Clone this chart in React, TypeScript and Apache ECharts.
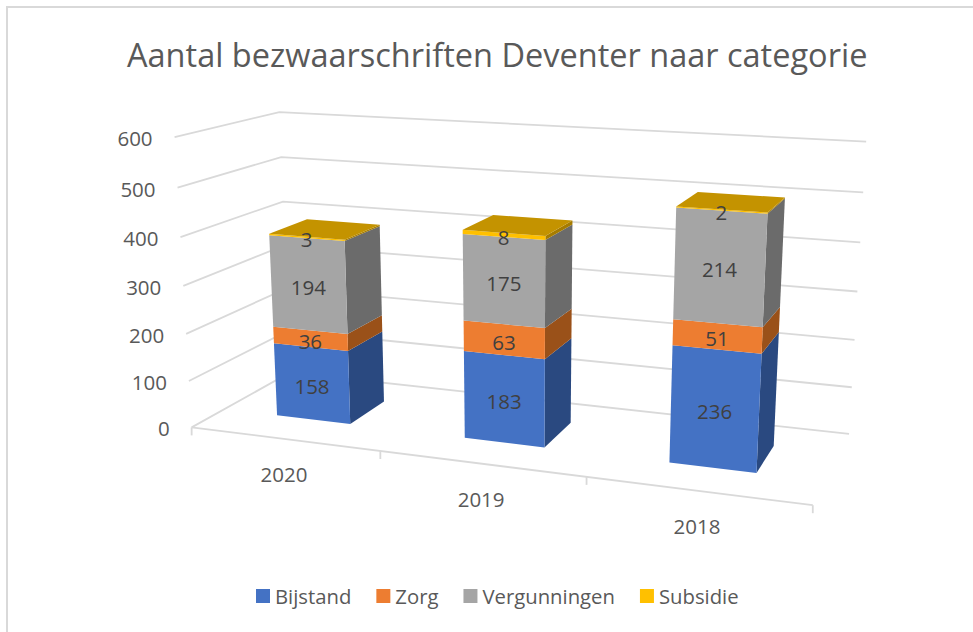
import React, { useEffect, useRef } from "react";
import * as echarts from "echarts";

const TITLE = "Aantal bezwaarschriften Deventer naar categorie";
const CATEGORIES = ["2020", "2019", "2018"];
const BIJSTAND = [158, 183, 236];
const ZORG = [36, 63, 51];
const VERGUNNINGEN = [194, 175, 214];
const SUBSIDIE = [3, 8, 2];
const VALUE_TICKS = [0, 100, 200, 300, 400, 500, 600];

const SERIES_NAMES = ["Bijstand", "Zorg", "Vergunningen", "Subsidie"];
const SERIES_VALUES = [BIJSTAND, ZORG, VERGUNNINGEN, SUBSIDIE];
const FRONT = ["#4472C4", "#ED7D31", "#A5A5A5", "#FFC000"];
const SIDE = ["#2A4980", "#9A5119", "#6B6B6B", "#A67C00"];
const TOP = "#C49300";
const TEXT = "#595959";
const LABEL = "#404040";
const GRIDLINE = "#D9D9D9";
const FONT = '"Open Sans", sans-serif';

// Picture of the 3D box: [u, v, depth] -> [x, y] for the visible corners of the axes.
const CALIBRATION: number[][] = [
  [0, 0, 0, 192, 425],
  [1, 0, 0, 813, 507],
  [0, 0, 1, 289.5, 375],
  [1, 0, 1, 849, 432],
  [0, 1, 1, 280, 111],
  [1, 1, 1, 866, 142],
  [0, 1, 0, 174, 138],
];

function fitProjection(): number[] {
  const n = 11;
  const a: number[][] = Array.from({ length: n }, () => new Array(n + 1).fill(0));
  const add = (row: number[], rhs: number) => {
    for (let i = 0; i < n; i++) {
      for (let j = 0; j < n; j++) a[i][j] += row[i] * row[j];
      a[i][n] += row[i] * rhs;
    }
  };
  for (const [u, v, d, x, y] of CALIBRATION) {
    add([u, v, d, 1, 0, 0, 0, 0, -x * u, -x * v, -x * d], x);
    add([0, 0, 0, 0, u, v, d, 1, -y * u, -y * v, -y * d], y);
  }
  for (let c = 0; c < n; c++) {
    let p = c;
    for (let r = c + 1; r < n; r++) if (Math.abs(a[r][c]) > Math.abs(a[p][c])) p = r;
    [a[c], a[p]] = [a[p], a[c]];
    for (let r = 0; r < n; r++) {
      if (r === c) continue;
      const f = a[r][c] / a[c][c];
      for (let k = c; k <= n; k++) a[r][k] -= f * a[c][k];
    }
  }
  return a.map((row, i) => row[n] / row[i]);
}

const P = fitProjection();
const project = (u: number, v: number, d: number): number[] => {
  const w = P[8] * u + P[9] * v + P[10] * d + 1;
  return [
    (P[0] * u + P[1] * v + P[2] * d + P[3]) / w,
    (P[4] * u + P[5] * v + P[6] * d + P[7]) / w,
  ];
};

const GRID = { left: 100, top: 100, width: 600, height: 300 };
const BAR_FRACTION = 0.4;
const BAR_SHIFT = -0.0015;
const D_FRONT = 0.31;
const D_BACK = 0.7;

const toUV = (pt: number[]) => [
  (pt[0] - GRID.left) / GRID.width,
  (GRID.top + GRID.height - pt[1]) / GRID.height,
];

const barRender = (seriesIndex: number, isTop: boolean) => (_p: any, api: any) => {
  const cat = api.value(0);
  const base = api.value(1);
  const end = api.value(2);
  const value = api.value(3);
  const [ucRaw, v0] = toUV(api.coord([cat, base]));
  const [, v1] = toUV(api.coord([cat, end]));
  const uc = ucRaw + BAR_SHIFT;
  const half = ((api.size([1, 0])[0] as number) * BAR_FRACTION) / 2 / GRID.width;
  const ul = uc - half;
  const ur = uc + half;
  const fl0 = project(ul, v0, D_FRONT);
  const fr0 = project(ur, v0, D_FRONT);
  const fl1 = project(ul, v1, D_FRONT);
  const fr1 = project(ur, v1, D_FRONT);
  const br0 = project(ur, v0, D_BACK);
  const br1 = project(ur, v1, D_BACK);
  const bl1 = project(ul, v1, D_BACK);
  const children: any[] = [
    { type: "polygon", shape: { points: [fr0, br0, br1, fr1] }, style: { fill: SIDE[seriesIndex] } },
    { type: "polygon", shape: { points: [fl0, fr0, fr1, fl1] }, style: { fill: FRONT[seriesIndex] } },
  ];
  if (isTop) {
    children.push({
      type: "polygon",
      shape: { points: [fl1, fr1, br1, bl1] },
      style: { fill: TOP },
    });
  }
  const centre = project(uc, (v0 + v1) / 2, D_FRONT);
  children.push({
    type: "text",
    style: {
      text: String(value),
      x: centre[0],
      y: centre[1] + 2,
      fill: LABEL,
      fontSize: 20.5,
      fontFamily: FONT,
      align: "center",
      verticalAlign: "middle",
    },
  });
  return { type: "group", children };
};

const valueAxisRender = (_p: any, api: any) => {
  const val = api.value(0);
  const [, v] = toUV(api.coord([0, val]));
  const a = project(0, v, 0);
  const b = project(0, v, 1);
  const c = project(1, v, 1);
  return {
    type: "group",
    children: [
      {
        type: "polyline",
        shape: { points: [a, b, c] },
        style: { stroke: GRIDLINE, lineWidth: 1.8, fill: "none" },
      },
      {
        type: "text",
        style: {
          text: String(val),
          x: a[0] - 22,
          y: a[1] + 1,
          fill: TEXT,
          fontSize: 20.5,
          fontFamily: FONT,
          align: "right",
          verticalAlign: "middle",
        },
      },
    ],
  };
};

const categoryAxisRender = (_p: any, api: any) => {
  const cat = api.value(0);
  const [uc] = toUV(api.coord([cat, 0]));
  const half = (api.size([1, 0])[0] as number) / 2 / GRID.width;
  const ur = uc + half;
  const tr = project(ur, 0, 0);
  const centre = project(uc, 0, 0);
  const children: any[] = [
    {
      type: "line",
      shape: { x1: tr[0], y1: tr[1], x2: tr[0], y2: tr[1] + 8 },
      style: { stroke: GRIDLINE, lineWidth: 1.8 },
    },
    {
      type: "text",
      style: {
        text: CATEGORIES[cat],
        x: centre[0],
        y: centre[1] + 35,
        fill: TEXT,
        fontSize: 20.5,
        fontFamily: FONT,
        align: "center",
        verticalAlign: "middle",
      },
    },
  ];
  if (cat === 0) {
    const o = project(0, 0, 0);
    const e = project(1, 0, 0);
    children.push(
      {
        type: "line",
        shape: { x1: o[0], y1: o[1], x2: e[0], y2: e[1] },
        style: { stroke: GRIDLINE, lineWidth: 1.8 },
      },
      {
        type: "line",
        shape: { x1: o[0], y1: o[1], x2: o[0], y2: o[1] + 8 },
        style: { stroke: GRIDLINE, lineWidth: 1.8 },
      }
    );
  }
  return { type: "group", children };
};

export default function App() {
  const ref = useRef<HTMLDivElement>(null);
  useEffect(() => {
    document.body.style.margin = "0";
    const chart = echarts.init(ref.current!, undefined, { renderer: "svg" });
    const barSeries = SERIES_NAMES.map((name, si) => ({
      type: "custom",
      name,
      silent: true,
      itemStyle: { color: FRONT[si] },
      renderItem: barRender(si, si === SERIES_NAMES.length - 1),
      data: CATEGORIES.map((_, ci) => {
        const base = SERIES_VALUES.slice(0, si).reduce((s, arr) => s + arr[ci], 0);
        return [ci, base, base + SERIES_VALUES[si][ci], SERIES_VALUES[si][ci]];
      }),
      encode: { x: 0, y: [1, 2] },
      z: 3,
    }));
    chart.setOption({
      animation: false,
      backgroundColor: "#ffffff",
      title: {
        text: TITLE,
        left: 122,
        top: 33,
        textStyle: { color: TEXT, fontSize: 32.5, fontWeight: "normal", fontFamily: FONT },
      },
      legend: {
        data: SERIES_NAMES,
        left: 256,
        top: 586,
        padding: 0,
        icon: "rect",
        itemWidth: 14,
        itemHeight: 14,
        itemGap: 25,
        selectedMode: false,
        textStyle: { color: TEXT, fontSize: 20.3, fontFamily: FONT },
      },
      grid: GRID,
      xAxis: { type: "category", data: CATEGORIES, show: false },
      yAxis: { type: "value", min: 0, max: 600, interval: 100, show: false },
      graphic: [
        {
          type: "polyline",
          silent: true,
          shape: { points: [[7, 632], [7, 7], [973, 7]] },
          style: { stroke: GRIDLINE, lineWidth: 2, fill: "none" },
        },
      ],
      series: [
        {
          type: "custom",
          name: "valueAxis",
          silent: true,
          renderItem: valueAxisRender,
          data: VALUE_TICKS.map((t) => [t]),
          encode: { y: 0 },
          z: 1,
        },
        {
          type: "custom",
          name: "categoryAxis",
          silent: true,
          renderItem: categoryAxisRender,
          data: CATEGORIES.map((_, i) => [i]),
          encode: { x: 0 },
          z: 1,
        },
        ...barSeries,
      ],
    });
    return () => chart.dispose();
  }, []);
  return <div ref={ref} style={{ width: 973, height: 632 }} />;
}
